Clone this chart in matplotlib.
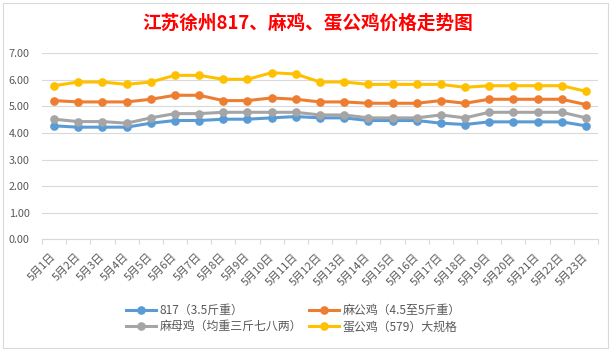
import matplotlib.pyplot as plt
from matplotlib.patches import Rectangle
from matplotlib.transforms import ScaledTranslation

plt.rcParams['font.family'] = ['Noto Sans CJK SC', 'DejaVu Sans']

dates = ["5月1日", "5月2日", "5月3日", "5月4日", "5月5日", "5月6日", "5月7日", "5月8日",
         "5月9日", "5月10日", "5月11日", "5月12日", "5月13日", "5月14日", "5月15日", "5月16日",
         "5月17日", "5月18日", "5月19日", "5月20日", "5月21日", "5月22日", "5月23日"]

# 817（3.5斤重）
p817 = [4.27, 4.22, 4.22, 4.22, 4.37, 4.47, 4.47, 4.52, 4.52, 4.57, 4.62, 4.57,
        4.57, 4.47, 4.47, 4.47, 4.37, 4.32, 4.42, 4.42, 4.42, 4.42, 4.27]
# 麻公鸡（4.5至5斤重）
ma_gong = [5.22, 5.17, 5.17, 5.17, 5.27, 5.42, 5.42, 5.22, 5.22, 5.32, 5.27, 5.17,
           5.17, 5.12, 5.12, 5.12, 5.22, 5.12, 5.27, 5.27, 5.27, 5.27, 5.07]
# 麻母鸡（均重三斤七八两）
ma_mu = [4.52, 4.43, 4.43, 4.37, 4.57, 4.73, 4.73, 4.78, 4.78, 4.78, 4.78, 4.68,
         4.68, 4.57, 4.57, 4.57, 4.68, 4.57, 4.78, 4.78, 4.78, 4.78, 4.57]
# 蛋公鸡（579）大规格
dan_gong = [5.78, 5.92, 5.92, 5.83, 5.92, 6.17, 6.17, 6.02, 6.02, 6.27, 6.22, 5.92,
            5.92, 5.83, 5.83, 5.83, 5.83, 5.72, 5.78, 5.78, 5.78, 5.78, 5.57]

series = [
    ("817（3.5斤重）", p817, "#5B9BD5"),
    ("麻公鸡（4.5至5斤重）", ma_gong, "#ED7D31"),
    ("麻母鸡（均重三斤七八两）", ma_mu, "#A5A5A5"),
    ("蛋公鸡（579）大规格", dan_gong, "#FFC000"),
]

W, H = 616, 351
fig = plt.figure(figsize=(W / 100, H / 100), dpi=100)
fig.patch.set_facecolor("white")

# chart frame
fig.patches.append(Rectangle((3 / W, 3 / H), 605 / W, 345 / H, transform=fig.transFigure,
                             fill=False, edgecolor="#d9d9d9", lw=0.8))

ax = fig.add_axes([42 / W, 1 - 239.3 / H, 556 / W, 186 / H])
x = list(range(len(dates)))
lines = {}
for name, vals, col in series:
    lines[name], = ax.plot(x, vals, color=col, lw=2.2, marker="o", markersize=5.2,
                           markeredgecolor=col, label=name, zorder=3)

ax.set_xlim(-0.5, len(dates) - 0.5)
ax.set_ylim(0, 7)
ax.set_yticks(range(0, 8))
ax.set_yticklabels([f"{v:.2f}" for v in range(0, 8)])
ax.grid(axis="y", color="#d9d9d9", lw=0.8)
ax.set_axisbelow(True)
for s in ["top", "left", "right"]:
    ax.spines[s].set_visible(False)
ax.spines["bottom"].set_color("#d9d9d9")
ax.spines["bottom"].set_linewidth(0.8)

ax.set_xticks(x)
ax.set_xticklabels(dates, rotation=45, ha="right", va="top", fontsize=7.9,
                   color="#595959")
ax.tick_params(axis="x", which="major", length=0, pad=9)
ax.set_xticks([i - 0.5 for i in range(len(dates) + 1)], minor=True)
ax.tick_params(axis="x", which="minor", length=3.5, color="#d9d9d9", width=0.8)
ax.tick_params(axis="y", length=0, labelsize=7.8, labelcolor="#595959", pad=9)
# nudge the rotated labels a bit to the right, like Excel does
shift = ScaledTranslation(4 / 100, 0, fig.dpi_scale_trans)
for lbl in ax.get_xticklabels():
    lbl.set_transform(lbl.get_transform() + shift)

fig.text(0.5, 1 - 23 / H, "江苏徐州817、麻鸡、蛋公鸡价格走势图", ha="center", va="center",
         fontsize=13.4, fontweight="bold", color="#FF0000")

order = ["817（3.5斤重）", "麻母鸡（均重三斤七八两）", "麻公鸡（4.5至5斤重）", "蛋公鸡（579）大规格"]
leg = fig.legend([lines[n] for n in order], order, ncol=2, loc="center",
                 bbox_to_anchor=(293.5 / W, 1 - 318.5 / H), frameon=False,
                 fontsize=8.6, handlelength=2.5, handletextpad=0.3,
                 columnspacing=0.6, labelspacing=0.3, borderpad=0)
for t in leg.get_texts():
    t.set_color("#595959")

fig.savefig("out.png", dpi=100)
